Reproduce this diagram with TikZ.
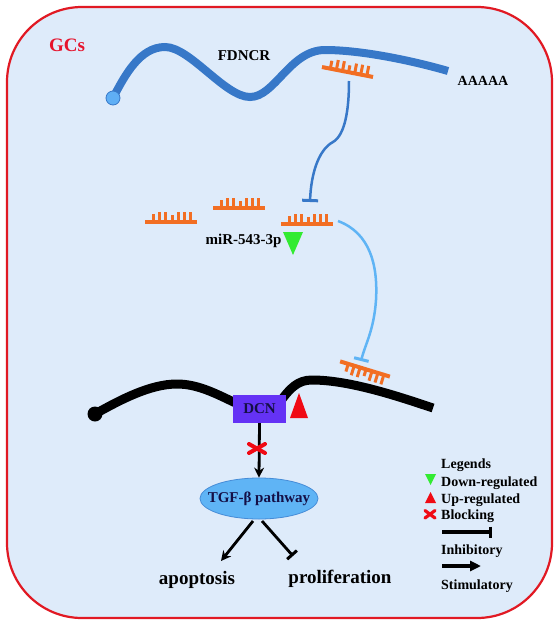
\documentclass[tikz,border=0pt]{standalone}
\usepackage{fontspec}
\setmainfont{Liberation Serif}
\usetikzlibrary{arrows.meta,shapes.geometric}
\definecolor{cellred}{RGB}{225,25,35}
\definecolor{gcred}{RGB}{230,20,45}
\definecolor{bgblue}{RGB}{222,235,250}
\definecolor{fdblue}{RGB}{55,120,200}
\definecolor{capblue}{RGB}{95,175,245}
\definecolor{orng}{RGB}{242,110,35}
\definecolor{lblue}{RGB}{95,180,245}
\definecolor{dgreen}{RGB}{50,235,50}
\definecolor{upred}{RGB}{240,10,20}
\definecolor{dcnpurple}{RGB}{100,50,245}
\definecolor{dcntext}{RGB}{20,15,70}
\definecolor{ellblue}{RGB}{95,180,245}
\definecolor{ellborder}{RGB}{70,140,215}
\newcommand{\myfs}[1]{\fontsize{#1}{#1}\selectfont\bfseries}
\tikzset{
  mirna/.pic={
    \fill[orng] (-26,-2) rectangle (26,2);
    \foreach \i/\h in {0/8,1/10,2/10,3/7,4/10,5/10,6/10}
      \fill[orng] ({-19+\i*6.2},0) rectangle ++(3,-\h);
  },
  mirnadown/.pic={
    \fill[orng] (-26,-2) rectangle (26,2);
    \foreach \i/\h in {0/8,1/10,2/10,3/7,4/10,5/10,6/10}
      \fill[orng] ({-19+\i*6.2},0) rectangle ++(3,\h);
  },
  lbl/.style={inner sep=0pt, font=\myfs{15}},
  leg/.style={inner sep=0pt, anchor=base west, font=\myfs{14}},
  blackline/.style={line width=2.8pt, black},
  legline/.style={line width=3.4pt, black},
  redx/.style={upred, line width=4pt, line cap=round},
}
\begin{document}
\begin{tikzpicture}[x=1pt,y=-1pt]
\useasboundingbox (0,0) rectangle (559,627);
\draw[draw=cellred, line width=2.2pt, fill=bgblue, rounded corners=75pt] (7,7) rectangle (552,618);
\node[inner sep=0pt, font=\myfs{19}, text=gcred] (gcs) at (67,45) {GCs};

% FDNCR lncRNA
\coordinate (f0) at (113,98);
\coordinate (f1) at (448,71);
\draw[fdblue, line width=8pt] (f0) .. controls (125,75) and (140,47) .. (165,47)
  .. controls (190,47) and (225,97) .. (250,97)
  .. controls (275,97) and (290,50) .. (325,50)
  .. controls (360,50) and (410,60) .. (f1);
\node[circle, fill=capblue, draw=fdblue, line width=0.8pt, minimum size=14pt, inner sep=0pt] (cap) at (f0) {};
\node[lbl] (fdncr) at (244,56) {FDNCR};
\node[lbl, font=\myfs{14}] (polya) at (483,81) {AAAAA};

% bound miRNA on FDNCR
\pic[rotate=-11] (mb) at (347.5,72) {mirna};

% inhibition FDNCR -> miRNA
\coordinate (i0) at (349,81);
\coordinate (i1) at (310,202);
\draw[fdblue, line width=2.5pt, -{Bar[width=16pt,line width=3pt]}] (i0)
  .. controls (349,110) and (345,135) .. (333,142)
  .. controls (318,150) and (311,175) .. (i1);

% free miRNAs
\pic (ma) at (171,222) {mirna};
\pic (mc) at (239,208) {mirna};
\pic (md) at (307,224) {mirna};
\node[lbl] (mirtxt) at (243.5,241) {miR-543-3p};
\fill[dgreen] (283,232) -- (303,232) -- (293,255) -- cycle;

% light blue inhibition miRNA -> DCN mRNA
\coordinate (l0) at (338,221);
\coordinate (l1) at (361,361);
\draw[lblue, line width=2.5pt, -{Bar[width=15pt,line width=3pt]}] (l0)
  .. controls (370,233) and (378,265) .. (376,300)
  .. controls (374,330) and (365,345) .. (l1);

% bound miRNA on DCN mRNA
\pic[rotate=-17] (me) at (365,369) {mirnadown};

% DCN mRNA
\coordinate (b0) at (95,414);
\coordinate (b1) at (433,408);
\draw[black, line width=9pt] (b0) .. controls (120,400) and (150,384) .. (177,384)
  .. controls (200,384) and (220,396) .. (240,405);
\draw[black, line width=9pt] (280,402) .. controls (290,388) and (298,380) .. (312,380)
  .. controls (350,380) and (400,397) .. (b1);
\fill[black] (b0) circle (7.5);
\node[fill=dcnpurple, minimum width=53pt, minimum height=28pt, inner sep=0pt, text=dcntext, font=\myfs{15}] (dcn) at (259.5,409) {DCN};
\fill[upred] (290,418) -- (308,418) -- (299,393) -- cycle;

% TGF-beta
\node[ellipse, fill=ellblue, draw=ellborder, line width=0.8pt, minimum width=118pt, minimum height=41pt, inner sep=0pt] (tgf) at (259,498.5) {};
\node[lbl, text=dcntext] (tgftxt) at (tgf) {TGF-β pathway};
\draw[blackline, -{Stealth[length=10pt,width=10pt]}] (dcn.south) -- (tgf.north);
\draw[redx] (249,444) -- (265,453);
\draw[redx] (249,453) -- (265,444);

\coordinate (e1) at (253,521);
\coordinate (e2) at (262,521);
\coordinate (apend) at (221,561);
\coordinate (prend) at (293,556);
\draw[blackline, -{Stealth[length=10pt,width=10pt]}] (e1) -- (apend);
\draw[blackline, -{Bar[width=13pt,line width=3pt]}] (e2) -- (prend);
\node[inner sep=0pt, font=\myfs{19}] (apop) at (197,580) {apoptosis};
\node[inner sep=0pt, font=\myfs{19}] (prol) at (340,579) {proliferation};

% Legend
\node[leg] (lg0) at (441,468) {Legends};
\node[leg] (lg1) at (441,486) {Down-regulated};
\node[leg] (lg2) at (441,503) {Up-regulated};
\node[leg] (lg3) at (441,519) {Blocking};
\node[leg] (lg4) at (441,554) {Inhibitory};
\node[leg] (lg5) at (441,589) {Stimulatory};
\fill[dgreen] (425,474) -- (436,474) -- (430.5,485) -- cycle;
\fill[upred] (425,503) -- (436,503) -- (430.5,492) -- cycle;
\draw[upred, line width=3.2pt, line cap=round] (425,510.5) -- (435,518);
\draw[upred, line width=3.2pt, line cap=round] (425,518) -- (435,510.5);
\coordinate (li0) at (442,532);
\coordinate (li1) at (492,532);
\draw[legline, -{Bar[width=11pt,line width=3pt]}] (li0) -- (li1);
\coordinate (ls0) at (442,566);
\coordinate (ls1) at (481,566);
\draw[legline, -{Triangle[length=11pt,width=10pt]}] (ls0) -- (ls1);
\end{tikzpicture}
\end{document}
